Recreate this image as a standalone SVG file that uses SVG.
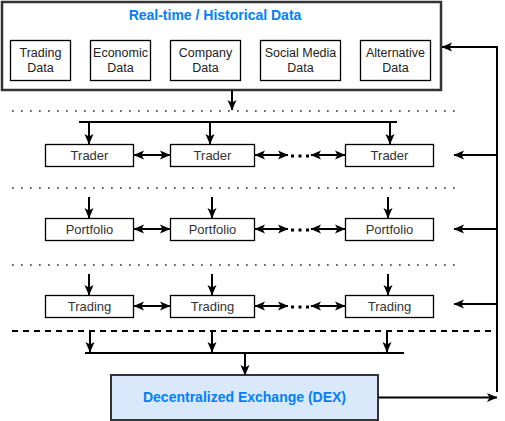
<svg xmlns="http://www.w3.org/2000/svg" width="505" height="421" viewBox="0 0 505 421">
<defs>
<marker id="ah" viewBox="0 0 12 12" refX="10.5" refY="6" markerWidth="12" markerHeight="12" markerUnits="userSpaceOnUse" orient="auto-start-reverse">
<path d="M0.5,1.5 L11,6 L0.5,10.5 L3,6 z" fill="#000"/>
</marker>
<style>
.box{fill:#fff;stroke:#000;stroke-width:1.3}
.t{font-family:"Liberation Sans",Arial,sans-serif;font-size:12.5px;fill:#222;text-anchor:middle}
.r{font-family:"Liberation Sans",Arial,sans-serif;font-size:13px;fill:#333;text-anchor:middle}
.h{font-family:"Liberation Sans",Arial,sans-serif;font-size:14px;font-weight:bold;fill:#007FFF;text-anchor:middle}
.c{fill:none;stroke:#000;stroke-width:2}
.ar{marker-end:url(#ah)}
.da{marker-start:url(#ah);marker-end:url(#ah)}
.dot{fill:none;stroke:#333;stroke-width:1.7;stroke-dasharray:1.7 7.3}
.dash{fill:none;stroke:#000;stroke-width:2;stroke-dasharray:6 5}
.ell{fill:none;stroke:#000;stroke-width:3;stroke-dasharray:3 4.5}
</style>
</defs>
<rect width="505" height="421" fill="#fff"/>

<g id="data-source">
<rect x="2" y="2" width="439" height="88" fill="#fff" stroke="#333" stroke-width="2.5"/>
<text class="h" x="215" y="20">Real-time / Historical Data</text>
</g>
<g id="trading-data"><rect class="box" x="10.5" y="40.5" width="60" height="40"/><text class="t" x="40.5" y="57">Trading</text><text class="t" x="40.5" y="72">Data</text></g>
<g id="economic-data"><rect class="box" x="90.5" y="40.5" width="60" height="40"/><text class="t" x="120.5" y="57">Economic</text><text class="t" x="120.5" y="72">Data</text></g>
<g id="company-data"><rect class="box" x="170.5" y="40.5" width="70" height="40"/><text class="t" x="205.5" y="57">Company</text><text class="t" x="205.5" y="72">Data</text></g>
<g id="social-data"><rect class="box" x="260.5" y="40.5" width="80" height="40"/><text class="t" x="300.5" y="57">Social Media</text><text class="t" x="300.5" y="72">Data</text></g>
<g id="alt-data"><rect class="box" x="360.5" y="40.5" width="70" height="40"/><text class="t" x="395.5" y="57">Alternative</text><text class="t" x="395.5" y="72">Data</text></g>

<g id="trader-1"><rect class="box" x="45.5" y="144.5" width="88" height="22"/><text class="r" x="89.5" y="160">Trader</text></g>
<g id="trader-2"><rect class="box" x="170.5" y="144.5" width="84" height="22"/><text class="r" x="212.5" y="160">Trader</text></g>
<g id="trader-3"><rect class="box" x="345.5" y="144.5" width="88" height="22"/><text class="r" x="389.5" y="160">Trader</text></g>

<g id="portfolio-1"><rect class="box" x="45.5" y="218.5" width="88" height="22"/><text class="r" x="89.5" y="234">Portfolio</text></g>
<g id="portfolio-2"><rect class="box" x="170.5" y="218.5" width="84" height="22"/><text class="r" x="212.5" y="234">Portfolio</text></g>
<g id="portfolio-3"><rect class="box" x="345.5" y="218.5" width="88" height="22"/><text class="r" x="389.5" y="234">Portfolio</text></g>

<g id="trading-1"><rect class="box" x="45.5" y="295.5" width="88" height="22"/><text class="r" x="89.5" y="311">Trading</text></g>
<g id="trading-2"><rect class="box" x="170.5" y="295.5" width="84" height="22"/><text class="r" x="212.5" y="311">Trading</text></g>
<g id="trading-3"><rect class="box" x="345.5" y="295.5" width="88" height="22"/><text class="r" x="389.5" y="311">Trading</text></g>

<g id="dex">
<rect x="111" y="375" width="267" height="45" fill="#dae8fc" stroke="#333" stroke-width="2"/>
<text class="h" x="244.5" y="402">Decentralized Exchange (DEX)</text>
</g>

<g id="separators">
<line class="dot" x1="12" y1="111" x2="462" y2="111"/>
<line class="dot" x1="12" y1="188" x2="462" y2="188"/>
<line class="dot" x1="12" y1="265" x2="462" y2="265"/>
<line class="dash" x1="12" y1="331" x2="497" y2="331"/>
<line class="ell" x1="291" y1="156" x2="309" y2="156"/>
<line class="ell" x1="291" y1="230" x2="309" y2="230"/>
<line class="ell" x1="291" y1="307" x2="309" y2="307"/>
</g>

<g id="connectors">
<line class="c ar" x1="232" y1="90" x2="232" y2="110"/>
<line class="c" x1="79" y1="122" x2="397" y2="122"/>
<line class="c ar" x1="89" y1="122" x2="89" y2="144"/>
<line class="c ar" x1="210" y1="122" x2="210" y2="144"/>
<line class="c ar" x1="390" y1="122" x2="390" y2="144"/>

<line class="c ar" x1="89" y1="197" x2="89" y2="218"/>
<line class="c ar" x1="212" y1="197" x2="212" y2="218"/>
<line class="c ar" x1="388" y1="197" x2="388" y2="218"/>

<line class="c ar" x1="89" y1="274" x2="89" y2="295"/>
<line class="c ar" x1="212" y1="274" x2="212" y2="295"/>
<line class="c ar" x1="388" y1="274" x2="388" y2="295"/>

<line class="c da" x1="134" y1="155" x2="170" y2="155"/>
<line class="c da" x1="255" y1="155" x2="288" y2="155"/>
<line class="c da" x1="311" y1="155" x2="345" y2="155"/>
<line class="c da" x1="134" y1="229" x2="170" y2="229"/>
<line class="c da" x1="255" y1="229" x2="288" y2="229"/>
<line class="c da" x1="311" y1="229" x2="345" y2="229"/>
<line class="c da" x1="134" y1="306" x2="170" y2="306"/>
<line class="c da" x1="255" y1="306" x2="288" y2="306"/>
<line class="c da" x1="311" y1="306" x2="345" y2="306"/>

<line class="c ar" x1="90" y1="331" x2="90" y2="352"/>
<line class="c ar" x1="212" y1="331" x2="212" y2="352"/>
<line class="c ar" x1="387" y1="331" x2="387" y2="352"/>
<line class="c" x1="85" y1="353" x2="404" y2="353"/>
<line class="c ar" x1="245" y1="353" x2="245" y2="375"/>

<line class="c ar" x1="378" y1="397.5" x2="497" y2="397.5"/>
<polyline class="c ar" points="497,392 497,47 442,47"/>
<line class="c ar" x1="497" y1="155" x2="454" y2="155"/>
<line class="c ar" x1="497" y1="229" x2="454" y2="229"/>
<line class="c ar" x1="497" y1="304" x2="454" y2="304"/>
</g>
</svg>
